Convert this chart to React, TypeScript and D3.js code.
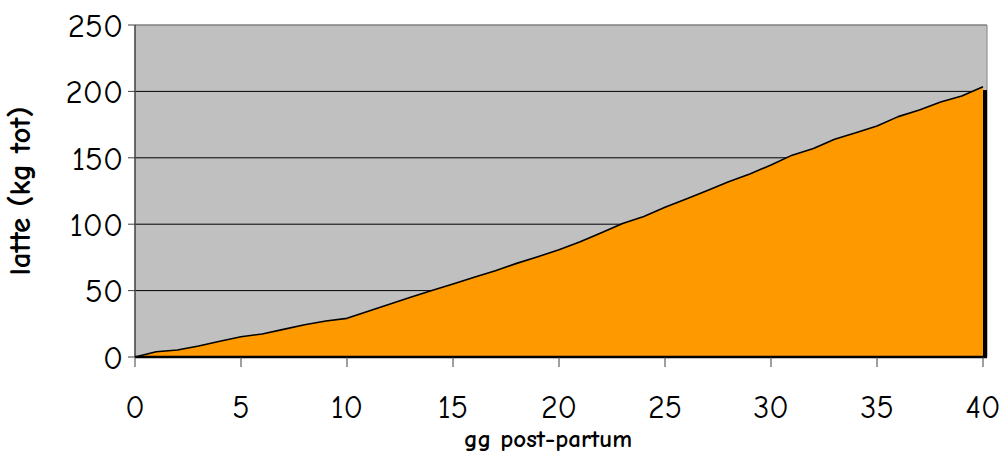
import React from "react";
import * as d3 from "d3";

const days = d3.range(0, 41);
const milk = [
  0, 4, 5.3, 8.3, 11.8, 15.3, 17.3, 20.8, 24.3, 27.1,
  29.1, 34.5, 39.8, 45, 50, 55, 60, 65, 70.5, 75.5,
  80.8, 86.8, 93.5, 100.5, 105.8, 112.7, 118.9, 125.4, 132, 137.8,
  144.6, 152, 157, 164, 168.8, 174, 181, 186, 192, 196.5,
  203.5,
];
const yTicks = [0, 50, 100, 150, 200, 250];
const xTicks = [0, 5, 10, 15, 20, 25, 30, 35, 40];

const W = 1004, H = 453;
const L = 135, T = 25, R = 987, B = 357;
const FONT = "'Comic Sans MS', 'Comic Neue', 'DejaVu Sans', sans-serif";

export default function App() {
  const x = d3.scaleLinear().domain([0, 40]).range([L, 983]);
  const y = d3.scaleLinear().domain([0, 250]).range([B, T]);
  const pts = days.map((d, i) => [d, milk[i]] as [number, number]);
  const area = d3.area<[number, number]>().x(d => x(d[0])).y0(y(0)).y1(d => y(d[1]))(pts) || "";
  const line = d3.line<[number, number]>().x(d => x(d[0])).y(d => y(d[1]))(pts) || "";
  return (
    <svg width={W} height={H} style={{ position: "absolute", left: 0, top: 0 }}>
      <rect x={0} y={0} width={W} height={H} fill="#fff" />
      <rect x={L} y={T} width={R - L} height={B - T} fill="#c0c0c0" />
      <line x1={L} x2={R} y1={T} y2={T} stroke="#808080" strokeWidth={1.5} />
      <line x1={R} x2={R} y1={T} y2={B} stroke="#909090" strokeWidth={1.2} />
      {yTicks.filter(t => t > 0 && t < 250).map(t => (
        <line key={t} x1={L} x2={R} y1={y(t)} y2={y(t)} stroke="#000" strokeWidth={1} />
      ))}
      <path d={area} fill="#ff9900" />
      <rect x={x(40)} y={y(201)} width={R - x(40)} height={B - y(201)} fill="#000" />
      <path d={line} fill="none" stroke="#000" strokeWidth={1.6} strokeLinejoin="round" />
      <line x1={L} x2={L} y1={T} y2={B} stroke="#404040" strokeWidth={1.5} />
      {yTicks.map(t => (
        <g key={t}>
          <line x1={L - 7} x2={L} y1={y(t)} y2={y(t)} stroke="#404040" strokeWidth={1} />
          <text x={123} y={y(t)} dy="0.36em" textAnchor="end" fontFamily={FONT} fontSize={33} fill="#000">{t}</text>
        </g>
      ))}
      <line x1={L} x2={R} y1={B} y2={B} stroke="#000" strokeWidth={2.5} />
      {xTicks.map(t => (
        <g key={t}>
          <line x1={x(t)} x2={x(t)} y1={B} y2={B + 10} stroke="#404040" strokeWidth={1} />
          <text x={x(t)} y={406} dy="0.36em" textAnchor="middle" fontFamily={FONT} fontSize={32} fill="#000">{t}</text>
        </g>
      ))}
      <text x={548} y={438} dy="0.36em" textAnchor="middle" fontFamily={FONT} fontSize={25} fontWeight="bold" fill="#000">gg post-partum</text>
      <text transform={`translate(19,191) rotate(-90)`} dy="0.36em" textAnchor="middle" fontFamily={FONT} fontSize={31} fontWeight="bold" fill="#000">latte (kg tot)</text>
    </svg>
  );
}
